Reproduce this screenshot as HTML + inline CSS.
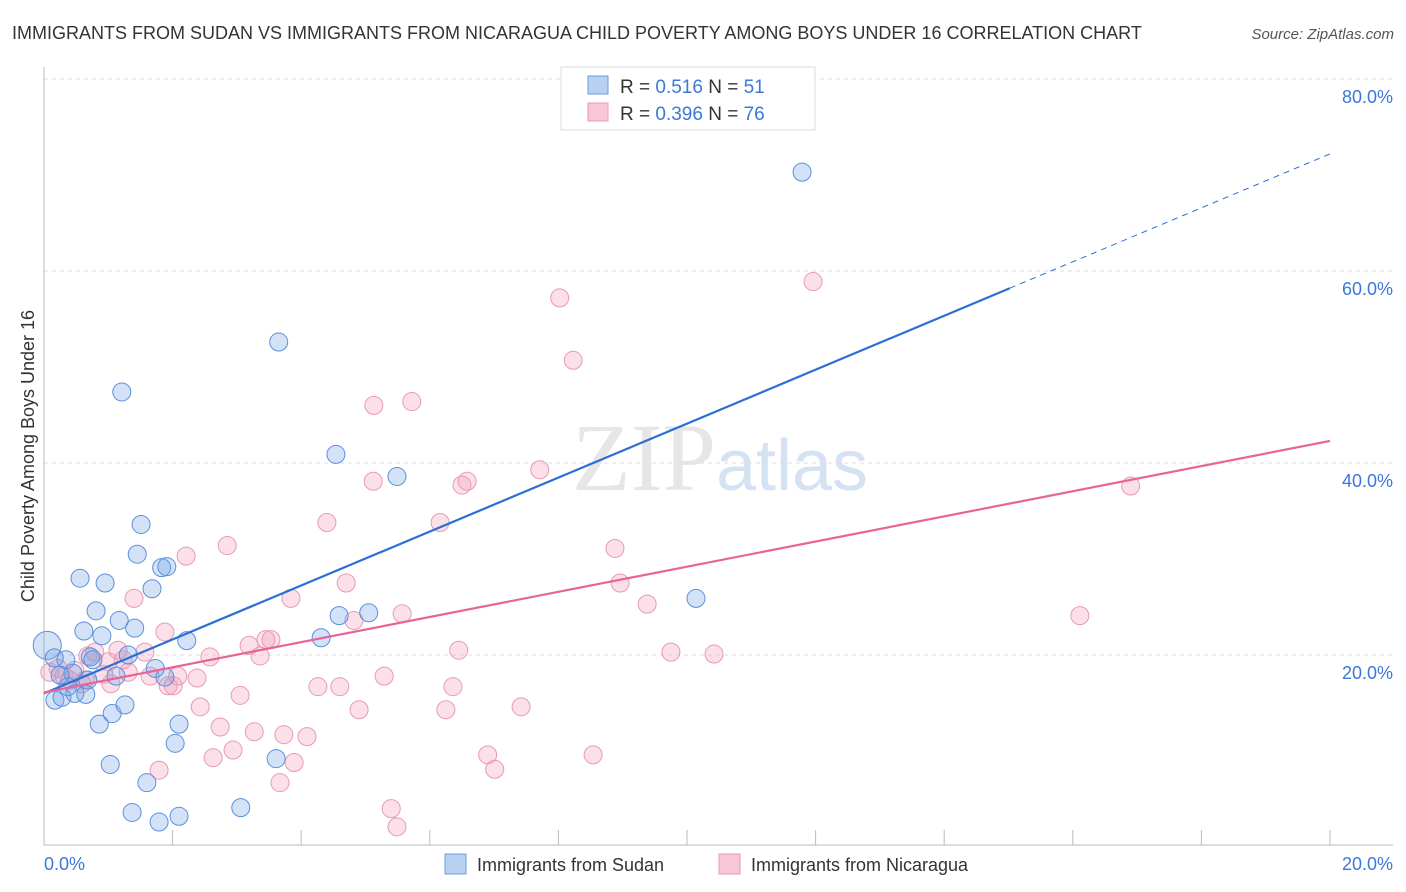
<!DOCTYPE html>
<html><head><meta charset="utf-8"><style>
body{margin:0;background:#fff;font-family:"Liberation Sans",sans-serif}
svg{display:block}
</style></head><body>
<svg id="chart" width="1406" height="892" viewBox="0 0 1406 892">
<text x="12" y="39" font-size="18" fill="#333">IMMIGRANTS FROM SUDAN VS IMMIGRANTS FROM NICARAGUA CHILD POVERTY AMONG BOYS UNDER 16 CORRELATION CHART</text>
<text x="1394" y="39" font-size="15" fill="#555" font-style="italic" text-anchor="end">Source: ZipAtlas.com</text>
<text x="720" y="490" font-size="96" fill="#e6e6e6" text-anchor="middle" font-family="Liberation Serif,serif">ZIP<tspan fill="#d5e2f3" font-family="Liberation Sans,sans-serif" font-size="72">atlas</tspan></text>
<g id="grid"></g>
<g id="axes"></g>
<g id="points"></g>
<g id="trends"></g>
<text transform="translate(34,456) rotate(-90)" font-size="18" fill="#333" text-anchor="middle">Child Poverty Among Boys Under 16</text>
<g>
<rect x="561" y="67" width="254" height="63" fill="#fff" stroke="#ddd"/>
<rect x="588" y="76" width="20" height="18" fill="#b8d1f3" stroke="#6a9de0"/>
<rect x="588" y="103" width="20" height="18" fill="#f9c6d6" stroke="#e89ab5"/>
<text x="620" y="93" font-size="19" fill="#333">R = <tspan fill="#3b78d8">0.516</tspan>   N = <tspan fill="#3b78d8">51</tspan></text>
<text x="620" y="120" font-size="19" fill="#333">R = <tspan fill="#3b78d8">0.396</tspan>   N = <tspan fill="#3b78d8">76</tspan></text>
</g>
<g>
<rect x="445" y="854" width="21" height="20" fill="#b8d1f3" stroke="#6a9de0"/>
<text x="477" y="871" font-size="18" fill="#333">Immigrants from Sudan</text>
<rect x="719" y="854" width="21" height="20" fill="#f9c6d6" stroke="#e89ab5"/>
<text x="751" y="871" font-size="18" fill="#333">Immigrants from Nicaragua</text>
</g>
</svg>
<script>
const sudanX=[0.05,0.17,0.28,0.16,0.34,0.48,0.65,0.56,0.81,0.62,0.90,0.72,0.76,0.95,1.17,1.41,1.31,1.12,0.86,1.06,1.26,1.03,1.51,1.45,1.68,1.83,1.91,1.73,1.88,2.22,2.10,2.04,1.60,1.37,1.79,2.10,1.21,3.65,4.54,5.49,4.31,4.59,5.05,3.61,3.06,10.14,11.79,0.37,0.45,0.25,0.68];
const sudanY=[21.0,15.3,15.6,19.7,19.5,16.0,15.9,28.0,24.6,22.5,22.0,19.8,19.5,27.5,23.6,22.8,20.0,17.8,12.8,13.9,14.8,8.6,33.6,30.5,26.9,29.1,29.2,18.6,17.7,21.5,12.8,10.8,6.7,3.6,2.6,3.2,47.4,52.6,40.9,38.6,21.8,24.1,24.4,9.2,4.1,25.9,70.3,16.7,18.1,17.9,17.4];
const nicX=[0.09,0.22,0.31,0.40,0.48,0.59,0.68,0.79,0.93,1.04,1.15,1.23,1.31,1.40,1.57,1.65,1.79,1.88,1.93,2.01,2.08,2.21,2.38,2.43,2.58,2.63,2.74,2.85,2.94,3.05,3.19,3.27,3.36,3.45,3.53,3.67,3.73,3.84,3.89,4.09,4.26,4.40,4.60,4.70,4.82,4.90,5.13,5.12,5.29,5.40,5.49,5.57,5.72,6.16,6.25,6.36,6.45,6.50,6.58,6.90,7.01,7.42,7.71,8.02,8.23,8.54,8.88,8.96,9.38,9.75,10.42,11.96,16.11,16.90,0.64,1.00];
const nicY=[18.2,18.6,17.8,17.4,18.4,17.0,19.9,20.3,18.0,17.0,20.5,19.5,18.2,25.9,20.3,17.8,8.0,22.4,16.8,16.8,17.8,30.3,17.6,14.6,19.8,9.3,12.5,31.4,10.1,15.8,21.0,12.0,19.9,21.6,21.6,6.7,11.7,25.9,8.8,11.5,16.7,33.8,16.7,27.5,23.6,14.3,46.0,38.1,17.8,4.0,2.1,24.3,46.4,33.8,14.3,16.7,20.5,37.7,38.1,9.6,8.1,14.6,39.3,57.2,50.7,9.6,31.1,27.5,25.3,20.3,20.1,58.9,24.1,37.6,17.4,19.3];
const sudanTrend=[16.0,2.81];   // intercept, slope
const nicTrend=[16.1,1.31];
const yTicks=[20,40,60,80];
const xTickVals=[0,2,4,6,8,10,12,14,16,18,20];
const NS='http://www.w3.org/2000/svg';
const X=v=>44+v/20*1286, Y=v=>847-v/20*192;
function mk(tag,attrs,parent){const e=document.createElementNS(NS,tag);for(const k in attrs)e.setAttribute(k,attrs[k]);parent.appendChild(e);return e;}
const grid=document.getElementById('grid'),axes=document.getElementById('axes'),pts=document.getElementById('points'),tr=document.getElementById('trends');
yTicks.forEach(t=>{
 const l=mk('line',{x1:44,x2:1393,y1:Y(t),y2:Y(t),stroke:'#ddd','stroke-dasharray':'4,4'},grid);
 
 
 const tx=mk('text',{x:1393,y:Y(t)+24,'font-size':18,fill:'#3b78d8','text-anchor':'end'},axes);
 tx.textContent=t.toFixed(1)+'%';
 
 
});
const ax=mk('line',{x1:44,x2:44,y1:67,y2:845,stroke:'#bbb'},axes);


const bx=mk('line',{x1:44,x2:1393,y1:845,y2:845,stroke:'#bbb'},axes);


xTickVals.slice(1).forEach(t=>{
 const l=mk('line',{x1:X(t),x2:X(t),y1:830,y2:845,stroke:'#bbb'},axes);
 
 
});
[[0,'start'],[20,'end']].forEach(([t,a])=>{
 const tx=mk('text',{x:t===0?44:1393,y:870,'font-size':18,fill:'#3b78d8','text-anchor':a},axes);
 tx.textContent=t.toFixed(1)+'%';
 
 
});
function drawPts(xs,ys,fill,stroke,name){
 xs.forEach((v,i)=>{
  const c=mk('circle',{cx:X(v),cy:Y(ys[i]),r:(i===0&&name==='sudan-point')?14:9,fill:fill,stroke:stroke,'stroke-width':1},pts);
  
  
 });
}
drawPts(nicX,nicY,'rgba(244,160,188,0.32)','#e89ab5','nicaragua-point');
drawPts(sudanX,sudanY,'rgba(110,160,230,0.3)','#5a90dc','sudan-point');
const sEnd=15.02;
let l1=mk('line',{x1:X(0),y1:Y(sudanTrend[0]),x2:X(sEnd),y2:Y(sudanTrend[0]+sudanTrend[1]*sEnd),stroke:'#2a6fd6','stroke-width':2.2},tr);


let l2=mk('line',{x1:X(sEnd),y1:Y(sudanTrend[0]+sudanTrend[1]*sEnd),x2:X(20),y2:Y(sudanTrend[0]+sudanTrend[1]*20),stroke:'#2a6fd6','stroke-width':1,'stroke-dasharray':'6,5'},tr);


let l3=mk('line',{x1:X(0),y1:Y(nicTrend[0]),x2:X(20),y2:Y(nicTrend[0]+nicTrend[1]*20),stroke:'#e8639a','stroke-width':2.2},tr);


</script>
</body></html>
